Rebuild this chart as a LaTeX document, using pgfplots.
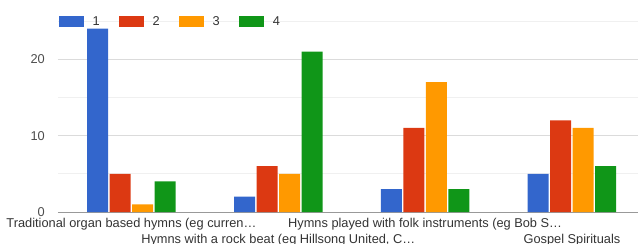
\documentclass[border=0pt]{standalone}
\usepackage{pgfplots}
\pgfplotsset{compat=1.18}
\usepackage{fontspec}
\setmainfont{Liberation Sans}
\definecolor{c1}{HTML}{3366CC}
\definecolor{c2}{HTML}{DC3912}
\definecolor{c3}{HTML}{FF9900}
\definecolor{c4}{HTML}{109618}
\begin{document}
\begin{tikzpicture}
\useasboundingbox (-58bp,-32bp) rectangle (581bp,212bp);
\begin{axis}[
  at={(0,0)}, anchor=south west,
  scale only axis, width=580bp, height=191bp,
  ybar=1.5bp, bar width=21bp,
  xmin=-0.5, xmax=3.45, ymin=0, ymax=25,
  /pgf/number format/assume math mode=true,
  xtick={0,2},
  xticklabels={{Traditional organ based hymns (eg curren…}, {Hymns played with folk instruments (eg Bob S…}},
  extra x ticks={1,3},
  extra x tick labels={{Hymns with a rock beat (eg Hillsong United, C…}, {Gospel Spirituals}},
  extra x tick style={xticklabel style={yshift=-16bp}},
  xticklabel style={font=\fontsize{12.8bp}{15bp}\selectfont, text=black!80, anchor=north, text height=9.5bp, text depth=3bp, inner sep=0pt, yshift=-5.5bp},
  ytick={0,10,20}, minor ytick={5,15,25},
  ymajorgrids, yminorgrids,
  major grid style={draw=black!14, line width=0.8bp},
  minor grid style={draw=black!6, line width=0.8bp},
  yticklabel style={font=\fontsize{12.8bp}{15bp}\selectfont, text=black!70, inner sep=0pt, xshift=-13bp},
  major tick length=0, minor tick length=0,
  axis x line*=bottom, axis y line*=left,
  x axis line style={-, draw=black!40, line width=0.9bp},
  y axis line style={draw=none},
  legend columns=4,
  legend style={at={(rel axis cs:0,1)}, anchor=west, xshift=1bp, yshift=-0.5bp, draw=none, fill=none, inner sep=0pt,
    nodes={inner sep=0pt, font=\fontsize{12.8bp}{15bp}\selectfont, text=black!80},
    /tikz/every odd column/.append style={column sep=8.5bp},
    /tikz/every even column/.append style={column sep=19.4bp}},
  legend image code/.code={\fill[#1] (0bp,-5.5bp) rectangle (25bp,5.5bp);},
]
\addplot[fill=c1, draw=none] coordinates {(0,24) (1,2) (2,3) (3,5)};
\addplot[fill=c2, draw=none] coordinates {(0,5) (1,6) (2,11) (3,12)};
\addplot[fill=c3, draw=none] coordinates {(0,1) (1,5) (2,17) (3,11)};
\addplot[fill=c4, draw=none] coordinates {(0,4) (1,21) (2,3) (3,6)};
\legend{1,2,3,4}
\end{axis}
\end{tikzpicture}
\end{document}
